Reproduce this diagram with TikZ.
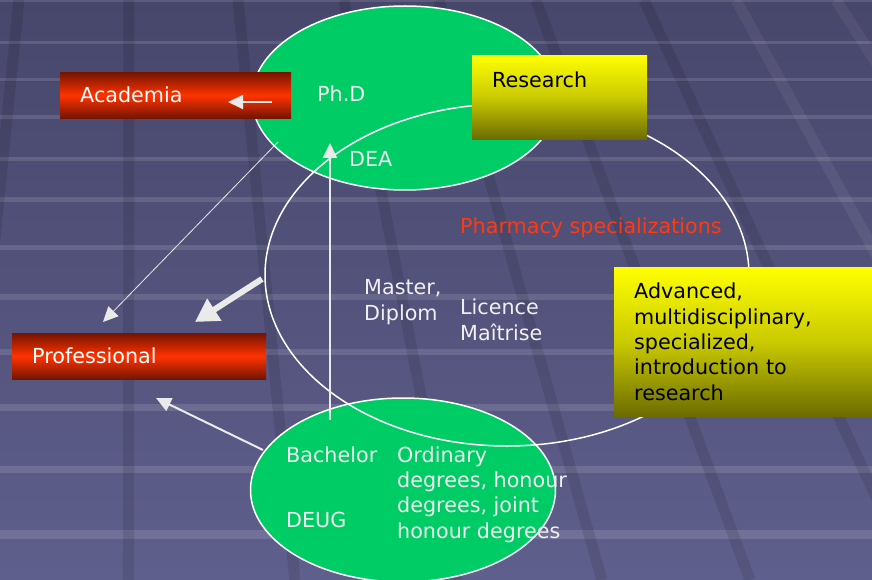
\documentclass[tikz,border=0pt]{standalone}
\usepackage{fontspec}
\setmainfont{DejaVu Sans}
\usepackage{xcolor}
\usepackage{tikz}
\usetikzlibrary{shapes.geometric, arrows.meta}

\definecolor{bgtop}{HTML}{47466B}
\definecolor{bgbottom}{HTML}{5F5F8D}
\definecolor{ovalgreen}{HTML}{00CC66}
\definecolor{boxred}{HTML}{FF3300}
\definecolor{boxdarkred}{HTML}{741400}
\definecolor{boxyellow}{HTML}{FFFF00}
\definecolor{boxmidyellow}{HTML}{CACA00}
\definecolor{boxolive}{HTML}{6C6C00}
\definecolor{labelgray}{HTML}{F0F0F0}
\definecolor{arrowwhite}{HTML}{EAEAEA}
\definecolor{specred}{HTML}{FF3A12}

\begin{document}
\begin{tikzpicture}[
        x=1pt, y=-1pt,
        every node/.style={font=\fontsize{20.7}{25.3}\selectfont},
        oval/.style={ellipse, draw=white, line width=1.5pt, fill=ovalgreen},
        ring/.style={ellipse, draw=white, line width=1.5pt},
        redbox/.style={rectangle, anchor=north west, inner xsep=20pt, align=left, text=white, top color=boxdarkred, bottom color=boxdarkred, middle color=boxred},
        yellowbox/.style={rectangle, anchor=north west, inner xsep=20pt, align=left, text=black, top color=boxyellow, bottom color=boxolive, middle color=boxmidyellow},
        degree/.style={anchor=base west, inner sep=0pt, align=left, text=labelgray},
        arrow/.style={draw=arrowwhite, line width=2pt, -{Triangle[length=15pt, width=14pt]}},
        thinarrow/.style={arrow, line width=0.8pt},
        bigarrow/.style={draw=arrowwhite, line width=6pt, -{Triangle[length=23pt, width=25pt]}},
        band/.style={white, opacity=0.12},
        stripe/.style={black, opacity=0.1, line width=11pt},
        litstripe/.style={white, opacity=0.06, line width=11pt}
    ]

        % ===== 背景 =====
        \useasboundingbox (0,0) rectangle (872,580);
        \clip (0,0) rectangle (872,580);
        \shade[top color=bgtop, bottom color=bgbottom] (0,0) rectangle (872,580);
        \foreach \y/\h in {0/2, 41/3, 78/3, 115/4, 157/4, 197/5, 245/5, 294/6, 349/6, 404/7, 466/7, 530/9}
            \fill[band] (0,\y) rectangle (872,\y+\h);
        \foreach \x in {19, 129, 238, 344, 439, 536, 644}
            \draw[stripe] (\x,0) -- ({130+(\x-130)*1.527},580);
        \foreach \x in {736, 836}
            \draw[litstripe] (\x,0) -- ({130+(\x-130)*1.527},580);

        % ===== 椭圆 =====
        \node (phdoval) [oval, minimum width=306pt, minimum height=184pt] at (405,98) {};
        \node (bacheloroval) [oval, minimum width=305pt, minimum height=184pt] at (403,490) {};
        \node (pharmring) [ring, minimum width=484pt, minimum height=342pt] at (507,275) {};

        % ===== 方框 =====
        \node (academia) [redbox, text width=191pt, minimum height=46pt] at (60,72) {Academia};
        \node (professional) [redbox, text width=214pt, minimum height=46pt] at (12,333) {Professional};
        \node (research) [yellowbox, text width=135pt, inner ysep=0pt, text height=32pt, text depth=52pt] at (472,55) {Research};
        \node (advanced) [yellowbox, text width=222pt, minimum height=149pt] at (614,267) {Advanced,\\multidisciplinary,\\specialized,\\introduction to\\research};

        % ===== 学位 (多行文字以末行基线定位) =====
        \node (phd) [degree] at (317,102) {Ph.D};
        \node (dea) [degree] at (349,167) {DEA};
        \node (pharmacy) [degree, text=specred] at (460,233) {Pharmacy specializations};
        \node (master) [degree] at (364,320) {Master,\\Diplom};
        \node (licence) [degree] at (460,340) {Licence\\Maîtrise};
        \node (bachelor) [degree] at (286,462) {Bachelor};
        \node (deug) [degree] at (286,527) {DEUG};
        \node (ordinary) [degree] at (397,538) {Ordinary\\degrees, honour\\degrees, joint\\honour degrees};

        % ===== 箭头连接 =====
        \coordinate (phdout) at (272,102);
        \coordinate (academiain) at (228,102);
        \coordinate (bachelorup) at (330,420);
        \coordinate (deain) at (330,143);
        \coordinate (phdleave) at (278,142);
        \coordinate (professionaltop) at (103,322);
        \coordinate (ringleave) at (262,279);
        \coordinate (professionalmid) at (195,322);
        \coordinate (bachelorleave) at (263,450);
        \coordinate (professionalbottom) at (156,398);

        \draw [arrow] (phdout) -- (academiain);
        \draw [arrow] (bachelorup) -- (deain);
        \draw [thinarrow] (phdleave) -- (professionaltop);
        \draw [bigarrow] (ringleave) -- (professionalmid);
        \draw [arrow] (bachelorleave) -- (professionalbottom);

    \end{tikzpicture}
\end{document}
